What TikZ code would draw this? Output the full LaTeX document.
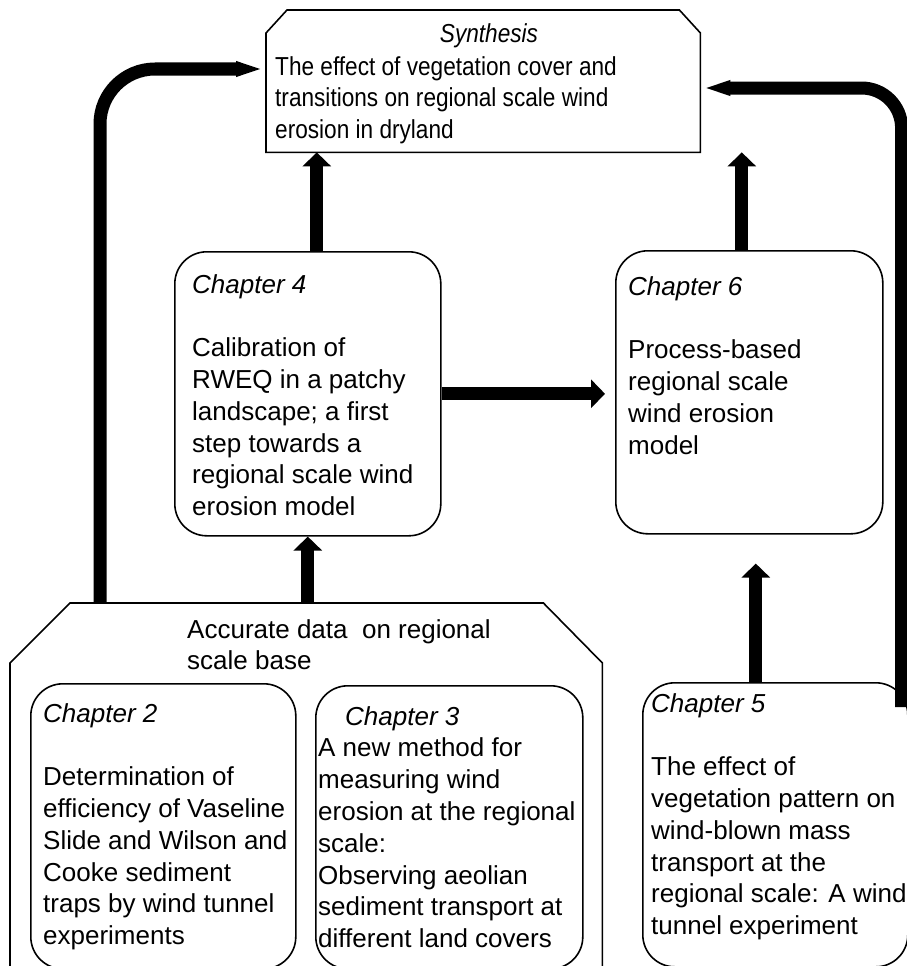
\documentclass[tikz,border=0pt]{standalone}
\usepackage{fontspec}
\setmainfont{Liberation Sans}
\newfontfamily\narrowfont[FakeStretch=0.87]{Liberation Sans}
\usetikzlibrary{positioning, arrows.meta, calc}

\tikzset{
	chapbox/.style={draw, line width=1.6pt, rounded corners=32pt, anchor=north west, inner sep=0pt},
	plainbox/.style={anchor=north west, inner sep=0pt},
	boxtext/.style={anchor=north west, inner sep=0pt, align=left},
	bigarrow/.style={line width=13pt, -{Triangle[length=14pt, width=28pt]}},
	feedline/.style={line width=13pt, -{Triangle[length=30pt, width=13pt]}},
	outline/.style={line width=1.6pt, line join=miter}
}

\begin{document}
\begin{tikzpicture}[x=1pt, y=-1pt, font=\fontsize{26}{31.8}\selectfont]
	\useasboundingbox (0,0) rectangle (906,966);
	
	% Synthesis
	\node[plainbox, minimum width=434pt, minimum height=142pt] (synth) at (266,10) {};
	\draw[outline] (synth.south west) -- ([yshift=-23pt]synth.north west) -- ([xshift=21pt]synth.north west)
		-- ([xshift=-21pt]synth.north east) -- ([yshift=-23pt]synth.north east) -- (synth.south east) -- cycle;
	\node[anchor=base, inner sep=0pt, font=\narrowfont\fontsize{26}{31.8}\selectfont] (synthtitle) at (489,43) {\textit{Synthesis}};
	\node[boxtext, font=\narrowfont\fontsize{26}{31.8}\selectfont] (synthtext) at (275,56) {
		The effect of vegetation cover and\\
		transitions on regional scale wind\\
		erosion in dryland
	};
	
	% Chapters
	\node[chapbox, minimum width=266pt, minimum height=284pt] (ch4) at (174,251) {};
	\node[boxtext] (ch4text) at (192,274) {
		\textit{Chapter 4}\\[31.8pt]
		Calibration of\\
		RWEQ in a patchy\\
		landscape; a first\\
		step towards a\\
		regional scale wind\\
		erosion model
	};
	
	\node[chapbox, minimum width=267pt, minimum height=283pt] (ch6) at (615,250) {};
	\node[boxtext] (ch6text) at (628,276) {
		\textit{Chapter 6}\\[31.8pt]
		Process-based\\
		regional scale\\
		wind erosion\\
		model
	};
	
	% Accurate data
	\node[plainbox, minimum width=592pt, minimum height=380pt] (acc) at (10,603) {};
	\draw[outline] (acc.south west) -- ([yshift=-60pt]acc.north west) -- ([xshift=60pt]acc.north west)
		-- ([xshift=-59pt]acc.north east) -- ([yshift=-60pt]acc.north east) -- (acc.south east) -- cycle;
	\node[boxtext] (acctext) at (187,619) {
		Accurate data~ on regional\\
		scale base
	};
	
	\node[chapbox, minimum width=265pt, minimum height=285pt] (ch2) at (30,683) {};
	\node[boxtext] (ch2text) at (43,703) {
		\textit{Chapter 2}\\[31.8pt]
		Determination of\\
		efficiency of Vaseline\\
		Slide and Wilson and\\
		Cooke sediment\\
		traps by wind tunnel\\
		experiments
	};
	
	\node[chapbox, minimum width=267pt, minimum height=283pt] (ch3) at (315,685) {};
	\node[boxtext] (ch3text) at (318,706) {
		\hspace*{27pt}\textit{Chapter 3}\\
		A new method for\\
		measuring wind\\
		erosion at the regional\\
		scale:\\
		Observing aeolian\\
		sediment transport at\\
		different land covers
	};
	
	\node[chapbox, minimum width=265pt, minimum height=284pt] (ch5) at (642,682) {};
	\node[boxtext] (ch5text) at (651,693) {
		\textit{Chapter 5}\\[31.8pt]
		The effect of\\
		vegetation pattern on\\
		wind-blown mass\\
		transport at the\\
		regional scale: A wind\\
		tunnel experiment
	};
	
	% Arrows
	\draw[bigarrow] ([xshift=9pt]ch4.north) -- ([xshift=9pt]ch4.north |- synth.south);
	\draw[bigarrow] ([xshift=-7.5pt]ch6.north) -- ([xshift=-7.5pt]ch6.north |- synth.south);
	\draw[bigarrow, shorten >=10pt] (ch4.east) -- (ch4.east -| ch6.west);
	\draw[bigarrow] (ch4.south |- acc.north) -- (ch4.south);
	\draw[bigarrow, shorten >=29pt] ([xshift=-19.5pt]ch5.north) -- ([xshift=-19.5pt]ch5.north |- ch6.south);
	
	% Feedback lines
	\draw[feedline, rounded corners=55pt] ([xshift=90pt]acc.north west) |- ([yshift=-59pt]synth.north west);
	\draw[feedline, rounded corners=40pt] ([xshift=-7pt, yshift=-25pt]ch5.north east) |- ([yshift=-78pt]synth.north east);
\end{tikzpicture}
\end{document}
